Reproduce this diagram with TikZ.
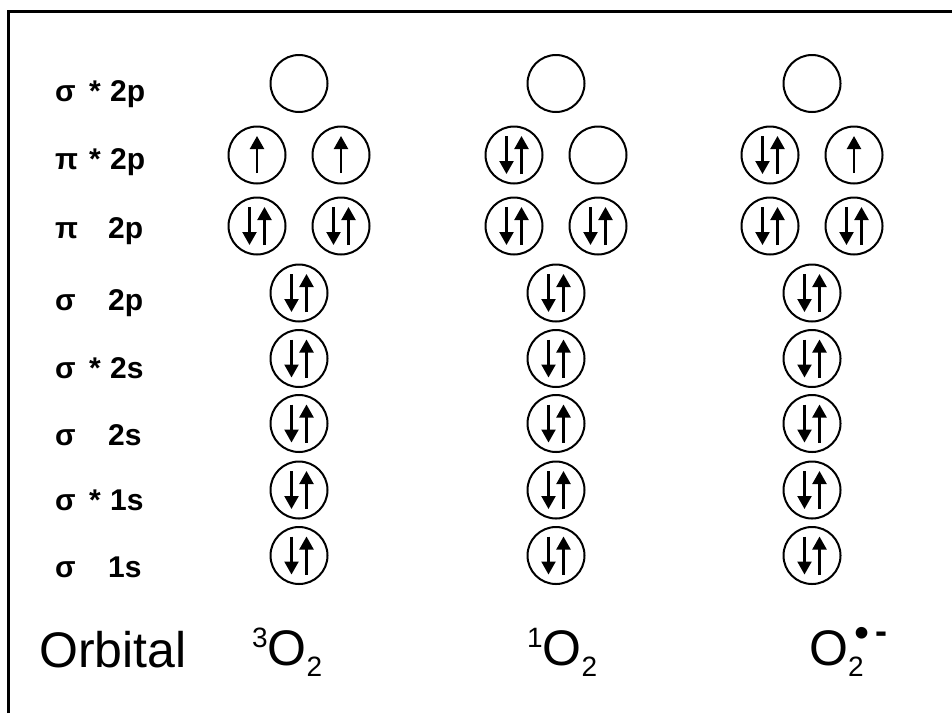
\documentclass[tikz,border=0pt]{standalone}
\usepackage{fontspec}
\usepackage{graphicx}
\setmainfont{Liberation Sans}
\usetikzlibrary{arrows.meta}
\tikzset{
  orb/.style={circle, draw, line width=2pt, minimum size=57pt, inner sep=0pt},
  spin/.style={line width=2.2pt, -{Triangle[width=14pt,length=13pt]}},
  lbl/.style={anchor=base west, inner sep=0pt, font=\bfseries\fontsize{30}{30}\selectfont},
  botlbl/.style={anchor=base west, inner sep=0pt, font=\fontsize{50}{50}\selectfont},
  borderline/.style={line width=3pt}
}
\newcommand\pairspin[1]{%
  \draw[spin] ([xshift=-7.5pt,yshift=19pt]#1.center) -- ([xshift=-7.5pt,yshift=-19pt]#1.center);
  \draw[spin] ([xshift=7.5pt,yshift=-19pt]#1.center) -- ([xshift=7.5pt,yshift=19pt]#1.center);}
\newcommand\onespin[1]{%
  \draw[spin] ([yshift=-18pt]#1.center) -- ([yshift=19pt]#1.center);}
\newcommand\smallsz{\fontsize{28}{28}\selectfont}
\begin{document}
\begin{tikzpicture}[x=1pt,y=-1pt]
\useasboundingbox (0,0) rectangle (952,713);
\draw[borderline] (8,713) -- (8,11) -- (952,11);

% orbitals
\foreach \c/\x in {a/299,b/556,c/812} {
  \node[orb] (\c0) at (\x,83.5) {};
  \node[orb] (\c1l) at (\x-42,155) {};
  \node[orb] (\c1r) at (\x+42,155) {};
  \node[orb] (\c2l) at (\x-42,226) {};
  \node[orb] (\c2r) at (\x+42,226) {};
  \foreach \i/\y in {3/293,4/358.5,5/423.5,6/490,7/555.5}
    \node[orb] (\c\i) at (\x,\y) {};
}

% electrons
\foreach \n in {a2l,a2r,a3,a4,a5,a6,a7,b1l,b2l,b2r,b3,b4,b5,b6,b7,c1l,c2l,c2r,c3,c4,c5,c6,c7}
  {\pairspin{\n}}
\foreach \n in {a1l,a1r,c1r}
  {\onespin{\n}}

% row labels
\node[lbl] (l0) at (55,101) {\makebox[34pt][l]{σ}\makebox[21pt][l]{*}2p};
\node[lbl] (l1) at (55,169) {\makebox[34pt][l]{π}\makebox[21pt][l]{*}2p};
\node[lbl] (l2) at (55,238) {\makebox[53pt][l]{π}2p};
\node[lbl] (l3) at (55,310) {\makebox[53pt][l]{σ}2p};
\node[lbl] (l4) at (55,378) {\makebox[34pt][l]{σ}\makebox[21pt][l]{*}2s};
\node[lbl] (l5) at (55,445) {\makebox[53pt][l]{σ}2s};
\node[lbl] (l6) at (55,510) {\makebox[34pt][l]{σ}\makebox[21pt][l]{*}1s};
\node[lbl] (l7) at (55,577) {\makebox[53pt][l]{σ}1s};

% bottom labels
\node[botlbl] (orbital) at (39,667) {Orbital};
\node[botlbl] (triplet) at (252,665) {\raisebox{18pt}{\smallsz 3}O\raisebox{-11pt}{\smallsz 2}};
\node[botlbl] (singlet) at (527,665) {\raisebox{18pt}{\smallsz 1}O\raisebox{-11pt}{\smallsz 2}};
\node[botlbl] (superox) at (809,665) {O\rlap{\raisebox{-11pt}{\smallsz 2}}\hspace{6pt}\raisebox{18pt}{\fontsize{43}{43}\selectfont •}\hspace{6pt}\raisebox{22pt}{\bfseries\fontsize{36}{36}\selectfont -}};
\end{tikzpicture}
\end{document}
